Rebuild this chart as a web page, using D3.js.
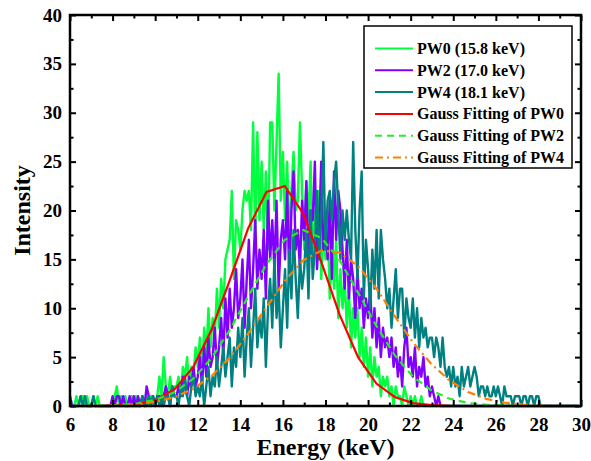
<!DOCTYPE html>
<html>
<head>
<meta charset="utf-8">
<script src="https://cdn.jsdelivr.net/npm/d3@7"></script>
<style>
  body { margin: 0; background: #fff; }
  svg { display: block; font-family: "Liberation Serif", "Times New Roman", serif; font-weight: bold; }
</style>
</head>
<body>
<svg width="591" height="461"></svg>
<script>
// measured spectra, one count per 0.1 keV channel starting at 6.0 keV
const pw0 = [
  1,0,0,1,0,1,1,0,1,0,   0,1,0,1,0,0,0,0,0,0,   0,1,2,0,1,0,1,0,0,1,
  0,1,0,0,1,0,1,0,1,1,   0,1,3,1,5,2,1,3,1,2,   2,3,1,4,3,5,2,4,3,6,
  4,7,3,8,5,10,6,9,7,12, 8,13,10,15,16,17,22,13,19,18,
  16,20,22,21,22,18,29,17,28,19, 25,18,24,16,29,29,20,27,34,21,
  26,19,25,17,22,26,20,21,29,22, 16,23,19,25,14,20,17,22,13,18,
  15,19,11,16,12,17,9,14,10,13,  8,12,6,10,7,10,5,8,4,7,
  3,6,2,5,3,4,1,3,2,3,   1,2,0,2,1,1,0,2,1,0,   1,0,1,0,0,1,0,0,0,0,
  0,0,0,0,0,0,0,0,0,0,   0,0,0,0,0,0,0,0,0,0,   0,0,0,0,0,0,0,0,0,0,
  0,0,0,0,0,0,0,0,0,0,   0,0,0,0,0,0,0,0,0,0,   0,0,0,0,0,0,0,0,0,0,
  0,0,0,0,0,0,0,0,0,0
];
const pw2 = [
  1,0,0,0,0,0,0,0,0,0,   0,0,0,0,0,0,0,0,0,0,   1,0,1,1,0,1,0,0,1,0,
  1,0,1,0,1,0,2,1,0,1,   0,1,1,0,1,2,1,0,2,1,   1,2,1,3,2,1,3,2,4,2,
  3,5,2,6,3,7,4,5,8,4,   6,9,5,11,7,12,8,10,14,9,
  11,15,8,13,17,10,14,19,12,16, 13,18,11,21,15,19,14,21,12,17,
  19,15,22,13,20,24,16,18,14,21, 17,23,15,20,19,25,14,18,25,16,
  19,15,21,13,24,17,22,20,16,12, 17,11,15,13,9,14,10,12,8,11,
  9,12,7,10,6,9,5,8,6,7,  5,7,4,6,3,5,2,6,8,4,  5,3,6,2,4,3,5,2,3,1,
  2,1,0,1,0,0,0,0,0,0,   0,0,0,0,0,0,0,0,0,0,   0,0,0,0,0,0,0,0,0,0,
  0,0,0,0,0,0,0,0,0,0,   0,0,0,0,0,0,0,0,0,0,   0,0,0,0,0,0,0,0,0,0,
  0,0,0,0,0,0,0,0,0,0
];
const pw4 = [
  0,0,0,0,0,1,0,1,0,0,   0,1,0,0,0,0,0,0,0,0,   0,0,0,0,0,0,0,0,0,0,
  0,0,0,0,1,0,0,1,0,1,   0,1,0,1,0,1,1,0,2,1,   1,0,2,1,3,1,0,2,3,1,
  2,1,3,0,2,4,1,3,2,5,   2,4,6,3,5,7,2,6,4,8,
  5,9,3,7,10,4,8,12,6,9, 7,11,4,10,13,8,15,9,12,6,
  10,14,8,16,11,18,13,9,15,12, 14,18,11,20,13,16,22,15,19,27,
  16,21,22,19,23,25,20,15,20,17, 20,17,15,27,18,13,20,24,11,17,
  14,10,16,12,18,11,18,15,13,10, 12,8,11,14,9,12,12,7,11,9,
  8,11,7,10,6,9,7,8,6,7, 7,5,7,6,4,7,4,3,4,2,  4,2,3,1,4,2,3,4,2,3,
  4,3,1,2,2,1,2,1,1,2,   1,2,1,0,2,1,1,1,0,1,   1,1,0,1,1,0,1,1,0,1,
  1,0,0,0,0,0,0,0,0,0,   0,0,0,0,0,0,0,0,0,0
];

// gauss fit curves as sampled in the figure
const fitX = [6.2, 7.49, 8.35, 9.21, 10.07, 10.93, 11.79, 12.65, 13.51, 14.37, 15.23, 16.09, 16.95, 17.81,
              18.67, 19.53, 20.39, 21.25, 22.11, 22.97, 23.83, 24.69, 25.55, 26.41, 27.27, 28.13, 28.99, 29.8];
const fit0 = [0, 0.01, 0.06, 0.2, 0.65, 1.75, 4.0, 7.8, 12.9, 18.2, 21.9, 22.5, 19.7, 14.7,
              9.3, 5.0, 2.3, 0.92, 0.3, 0.09, 0.02, 0, 0, 0, 0, 0, 0, 0];
const fit2 = [0, 0.04, 0.1, 0.28, 0.67, 1.44, 2.8, 4.9, 7.8, 11.2, 14.5, 17.0, 18.0, 17.2,
              14.9, 11.6, 8.2, 5.2, 3.0, 1.6, 0.74, 0.31, 0.12, 0.04, 0.01, 0, 0, 0];
const fit4 = [0, 0.03, 0.08, 0.2, 0.45, 0.92, 1.76, 3.07, 4.96, 7.4, 10.1, 12.8, 14.9, 15.9,
              15.7, 14.3, 12.0, 9.2, 6.5, 4.3, 2.6, 1.44, 0.73, 0.34, 0.15, 0.06, 0.02, 0];

const legendLabels = ["PW0 (15.8 keV)", "PW2 (17.0 keV)", "PW4 (18.1 keV)",
                      "Gauss Fitting of PW0", "Gauss Fitting of PW2", "Gauss Fitting of PW4"];
const xTicks = d3.range(6, 31, 2);
const yTicks = d3.range(0, 41, 5);

const energy = pw0.map((d, i) => 6 + i * 0.1);

const svg = d3.select("svg");
const plotL = 70, plotR = 581, plotT = 15, plotB = 406;

const x = d3.scaleLinear().domain([6, 30]).range([plotL, plotR]);
const y = d3.scaleLinear().domain([0, 40]).range([plotB, plotT]);

const line = d3.line().x(d => x(d[0])).y(d => y(d[1]));

const series = [
  { vals: pw0, color: "#00ff3c" },
  { vals: pw2, color: "#8000ff" },
  { vals: pw4, color: "#008080" }
];
series.forEach(s => {
  svg.append("path")
    .datum(energy.map((e, i) => [e, s.vals[i]]))
    .attr("d", line)
    .attr("fill", "none")
    .attr("stroke", s.color)
    .attr("stroke-width", 2.4)
    .attr("stroke-linejoin", "round");
});

const fits = [
  { vals: fit0, color: "#ff0000", dash: null },
  { vals: fit2, color: "#22ee22", dash: "7,5" },
  { vals: fit4, color: "#ff8000", dash: "8,4,2,4" }
];
fits.forEach(f => {
  svg.append("path")
    .datum(fitX.map((e, i) => [e, f.vals[i]]))
    .attr("d", line)
    .attr("fill", "none")
    .attr("stroke", f.color)
    .attr("stroke-width", 2.2)
    .attr("stroke-dasharray", f.dash);
});

// axes, ticks pointing inward
function styleAxis(g) {
  g.select(".domain").remove();
  g.selectAll(".tick line").attr("stroke", "#000").attr("stroke-width", 2);
  g.selectAll("text").attr("font-size", 19).attr("font-family", "Liberation Serif, serif")
    .attr("font-weight", "bold").attr("fill", "#000");
}
const minorX = d3.range(7, 30, 2);
const minorY = d3.range(2.5, 40, 5);

svg.append("g").attr("transform", `translate(0,${plotB})`)
  .call(d3.axisBottom(x).tickValues(xTicks).tickSize(-6).tickSizeOuter(0).tickPadding(12))
  .call(styleAxis);
svg.append("g").attr("transform", `translate(0,${plotB})`)
  .call(d3.axisBottom(x).tickValues(minorX).tickSize(-3.5).tickFormat(""))
  .call(styleAxis);
svg.append("g").attr("transform", `translate(0,${plotT})`)
  .call(d3.axisTop(x).tickValues(xTicks).tickSize(-6).tickFormat(""))
  .call(styleAxis);
svg.append("g").attr("transform", `translate(0,${plotT})`)
  .call(d3.axisTop(x).tickValues(minorX).tickSize(-3.5).tickFormat(""))
  .call(styleAxis);
svg.append("g").attr("transform", `translate(${plotL},0)`)
  .call(d3.axisLeft(y).tickValues(yTicks).tickSize(-6).tickSizeOuter(0).tickPadding(8))
  .call(styleAxis);
svg.append("g").attr("transform", `translate(${plotL},0)`)
  .call(d3.axisLeft(y).tickValues(minorY).tickSize(-3.5).tickFormat(""))
  .call(styleAxis);
svg.append("g").attr("transform", `translate(${plotR},0)`)
  .call(d3.axisRight(y).tickValues(yTicks).tickSize(-6).tickFormat(""))
  .call(styleAxis);
svg.append("g").attr("transform", `translate(${plotR},0)`)
  .call(d3.axisRight(y).tickValues(minorY).tickSize(-3.5).tickFormat(""))
  .call(styleAxis);

svg.append("rect")
  .attr("x", plotL).attr("y", plotT)
  .attr("width", plotR - plotL).attr("height", plotB - plotT)
  .attr("fill", "none").attr("stroke", "#000").attr("stroke-width", 2.5);

svg.append("text")
  .attr("x", (plotL + plotR) / 2).attr("y", 455)
  .attr("text-anchor", "middle").attr("font-size", 24)
  .text("Energy (keV)");
svg.append("text")
  .attr("transform", `translate(30,${(plotT + plotB) / 2}) rotate(-90)`)
  .attr("text-anchor", "middle").attr("font-size", 24)
  .text("Intensity");

// legend
const legend = svg.append("g");
legend.append("rect")
  .attr("x", 364).attr("y", 26).attr("width", 208).attr("height", 142)
  .attr("fill", "#fff").attr("stroke", "#000").attr("stroke-width", 1.5);
const legendStyles = series.map(s => ({ color: s.color, dash: null })).concat(fits);
legendLabels.forEach((lab, i) => {
  const ly = 48.5 + i * 21.8;
  legend.append("line")
    .attr("x1", 375).attr("x2", 413).attr("y1", ly).attr("y2", ly)
    .attr("stroke", legendStyles[i].color).attr("stroke-width", 2)
    .attr("stroke-dasharray", legendStyles[i].dash);
  legend.append("text")
    .attr("x", 417).attr("y", ly + 5.5)
    .attr("font-size", 16)
    .text(lab);
});
</script>
</body>
</html>
